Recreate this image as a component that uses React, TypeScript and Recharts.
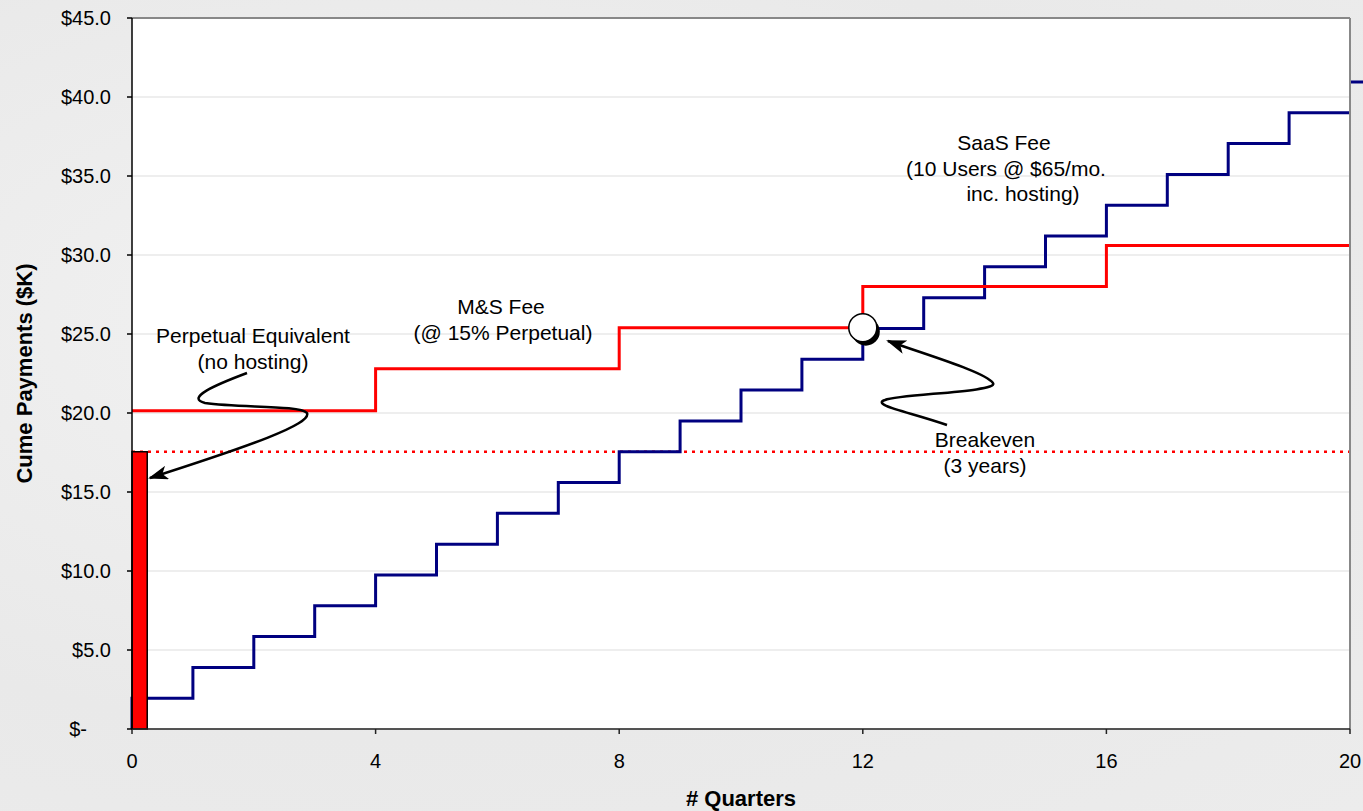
import React from "react";
import {
  ComposedChart,
  Line,
  XAxis,
  YAxis,
  CartesianGrid,
  ReferenceLine,
  ReferenceArea,
  ReferenceDot,
} from "recharts";

// quarters on the x axis
const quarters = [0, 1, 2, 3, 4, 5, 6, 7, 8, 9, 10, 11, 12, 13, 14, 15, 16, 17, 18, 19, 20];
// cumulative SaaS fee ($K), 10 users @ $65/mo
const saasFee = [1.95, 3.9, 5.85, 7.8, 9.75, 11.7, 13.65, 15.6, 17.55, 19.5, 21.45, 23.4, 25.35, 27.3, 29.25, 31.2, 33.15, 35.1, 37.05, 39.0, 39.0];
// cumulative perpetual + M&S fee ($K)
const msFee = [20.15, 20.15, 20.15, 20.15, 22.8, 22.8, 22.8, 22.8, 25.4, 25.4, 25.4, 25.4, 28.0, 28.0, 28.0, 28.0, 30.6, 30.6, 30.6, 30.6, 30.6];
const perpetual = 17.55;
const breakeven = { q: 12, value: 25.4 };
const saasNext = 40.95; // next step, just past the axis end

const xTicks = [0, 4, 8, 12, 16, 20];
const yTicks = [0, 5, 10, 15, 20, 25, 30, 35, 40, 45];

const data = [
  { q: 0, saas: 0 },
  ...quarters.map((q, i) => ({ q, saas: saasFee[i], ms: msFee[i] })),
];

const FONT = "'Liberation Sans', Arial, sans-serif";

const YTick = ({ x, y, payload }: any) => (
  <text
    x={payload.value === 0 ? x - 24 : x}
    y={y}
    dy="0.355em"
    textAnchor="end"
    fontSize={20}
    fontFamily={FONT}
    fill="#000"
  >
    {payload.value === 0 ? "$-" : `$${payload.value.toFixed(1)}`}
  </text>
);

const XTick = ({ x, y, payload }: any) => (
  <text x={x} y={y} dy="0.71em" textAnchor="middle" fontSize={20} fontFamily={FONT} fill="#000">
    {payload.value}
  </text>
);

const BreakevenDot = ({ cx, cy }: any) => (
  <g>
    <circle cx={cx + 3} cy={cy + 4} r={14} fill="#000" />
    <circle cx={cx} cy={cy} r={14} fill="#fff" stroke="#000" strokeWidth={1.5} />
  </g>
);

const Note = ({ x, y, lines }: { x: number[]; y: number; lines: string[] }) => (
  <text fontSize={21} fontFamily={FONT} fill="#000" textAnchor="middle">
    {lines.map((l, i) => (
      <tspan key={i} x={x[i]} y={y + i * 25.5}>
        {l}
      </tspan>
    ))}
  </text>
);

export default function App() {
  return (
    <div
      style={{
        position: "absolute",
        left: 0,
        top: 0,
        width: 1363,
        height: 811,
        background: "radial-gradient(ellipse at 30% 40%, #f2f2f2 0%, #e9e9e9 60%, #ececec 100%)",
        fontFamily: FONT,
      }}
    >
      <ComposedChart
        width={1363}
        height={811}
        data={data}
        margin={{ top: 18, right: 13, bottom: 0, left: 0 }}
      >
        <CartesianGrid vertical={false} stroke="#dddddd" fill="#ffffff" />
        <XAxis
          type="number"
          dataKey="q"
          domain={[0, 20]}
          ticks={xTicks}
          height={82}
          tickSize={5}
          tickMargin={20}
          tick={<XTick />}
          stroke="#222"
          strokeWidth={1.5}
          label={{
            value: "# Quarters",
            position: "insideBottom",
            offset: 5,
            fontSize: 22,
            fontWeight: "bold",
            fill: "#000",
            fontFamily: FONT,
          }}
        />
        <YAxis
          type="number"
          domain={[0, 45]}
          ticks={yTicks}
          width={132}
          tickSize={5}
          tickMargin={16}
          tick={<YTick />}
          stroke="#000"
          strokeWidth={1.5}
          label={{
            content: ({ viewBox }: any) => (
              <text
                transform={`translate(32, ${viewBox.y + viewBox.height / 2}) rotate(-90)`}
                textAnchor="middle"
                fontSize={22}
                fontWeight="bold"
                fontFamily={FONT}
                fill="#000"
              >
                Cume Payments ($K)
              </text>
            ),
          }}
        />
        <ReferenceLine y={perpetual} stroke="#ff0000" strokeWidth={2.5} strokeDasharray="3 5" />
        <Line
          type="stepAfter"
          dataKey="saas"
          stroke="#000080"
          strokeWidth={3}
          dot={false}
          activeDot={false}
          isAnimationActive={false}
        />
        <Line
          type="stepAfter"
          dataKey="ms"
          stroke="#ff0000"
          strokeWidth={3}
          dot={false}
          activeDot={false}
          isAnimationActive={false}
        />
        <ReferenceArea
          x1={0}
          x2={0.25}
          y1={0}
          y2={perpetual}
          fill="#ff0000"
          fillOpacity={1}
          stroke="#000"
          strokeWidth={1.5}
          zIndex={450}
        />
        <ReferenceLine y={45} stroke="#888" strokeWidth={2} zIndex={450} />
        <ReferenceLine x={20} stroke="#888" strokeWidth={2} zIndex={450} />
        <ReferenceLine
          segment={[
            { x: 20, y: saasNext },
            { x: 20.25, y: saasNext },
          ]}
          ifOverflow="visible"
          stroke="#000080"
          strokeWidth={3}
        />
        <ReferenceDot
          x={breakeven.q}
          y={breakeven.value}
          r={14}
          shape={<BreakevenDot />}
          zIndex={600}
        />
      </ComposedChart>

      <svg
        width={1363}
        height={811}
        style={{ position: "absolute", left: 0, top: 0, pointerEvents: "none" }}
      >
        <defs>
          <marker
            id="head"
            viewBox="0 0 10 10"
            refX="9"
            refY="5"
            markerWidth="20"
            markerHeight="14"
            markerUnits="userSpaceOnUse"
            orient="auto"
            preserveAspectRatio="none"
          >
            <path d="M0,0 L10,5 L0,10 L2.5,5 Z" fill="#000" />
          </marker>
        </defs>
        <path
          d="M 247 373 C 215 385, 185 398, 205 403 C 240 408, 300 405, 307 413 C 312 424, 250 446, 150 478"
          fill="none"
          stroke="#000"
          strokeWidth={2.5}
          markerEnd="url(#head)"
        />
        <path
          d="M 947 425 C 910 412, 870 405, 885 400 C 900 394, 1000 392, 993 383 C 985 372, 930 356, 888 341"
          fill="none"
          stroke="#000"
          strokeWidth={2.5}
          markerEnd="url(#head)"
        />
        <Note x={[253, 253]} y={343} lines={["Perpetual Equivalent", "(no hosting)"]} />
        <Note x={[501, 503]} y={314} lines={["M&S Fee", "(@ 15% Perpetual)"]} />
        <Note x={[1004, 1006, 1023]} y={150} lines={["SaaS Fee", "(10 Users @ $65/mo.", "inc. hosting)"]} />
        <Note x={[985, 985]} y={447} lines={["Breakeven", "(3 years)"]} />
      </svg>
    </div>
  );
}
